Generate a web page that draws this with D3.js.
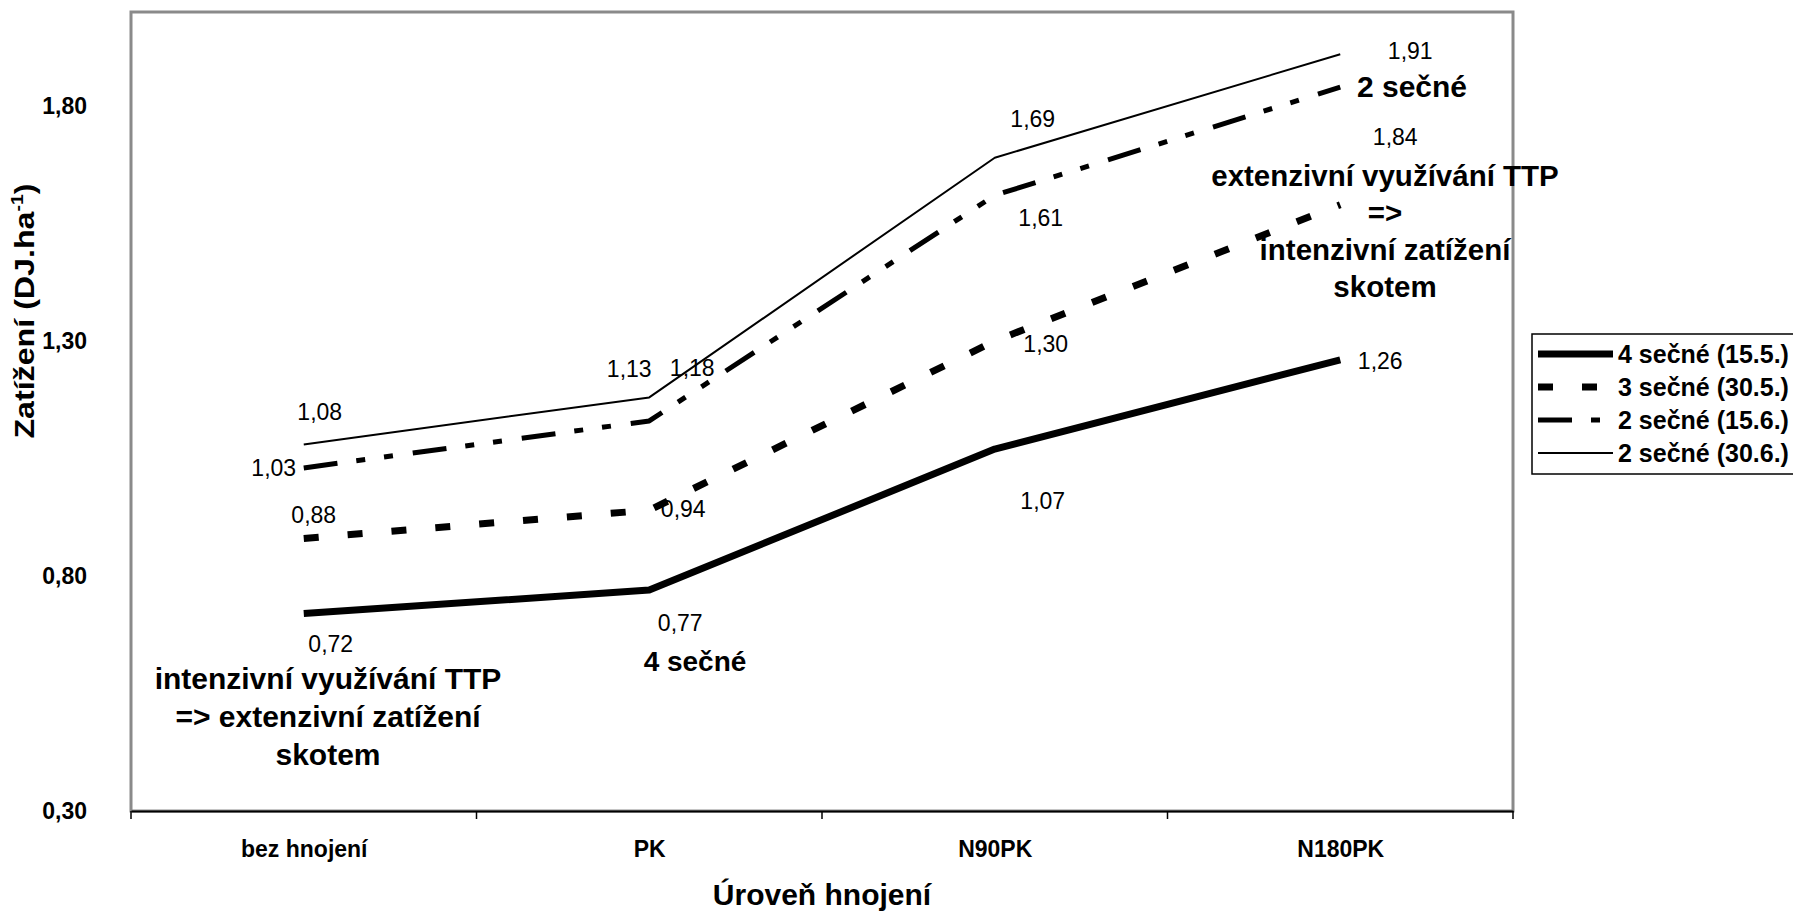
<!DOCTYPE html>
<html>
<head>
<meta charset="utf-8">
<script src="https://cdn.jsdelivr.net/npm/d3@7"></script>
<style>
  body { margin: 0; background: #fff; }
  svg { display: block; font-family: "Liberation Sans", Arial, sans-serif; }
</style>
</head>
<body>
<div id="chart"></div>
<script>
// kategorie a hodnoty (DJ.ha-1)
const categories = ["bez hnojení", "PK", "N90PK", "N180PK"];
const seriesNames = ["4 sečné (15.5.)", "3 sečné (30.5.)", "2 sečné (15.6.)", "2 sečné (30.6.)"];
const cut4_155 = [0.72, 0.77, 1.07, 1.26];
const cut3_305 = [0.88, 0.94, 1.30, 1.59];
const cut2_156 = [1.03, 1.13, 1.61, 1.84];
const cut2_306 = [1.08, 1.18, 1.69, 1.91];
const yTicks = [0.30, 0.80, 1.30, 1.80];
// popisek u 3 sečné / N180PK v originale chybi
const showLabel = [[1, 1, 1, 1], [1, 1, 1, 0], [1, 1, 1, 1], [1, 1, 1, 1]];

const noteLeft = ["intenzivní využívání TTP", "=> extenzivní zatížení", "skotem"];
const noteRight = ["extenzivní využívání TTP", "=>", "intenzivní zatížení", "skotem"];
const note4 = "4 sečné";
const note2 = "2 sečné";

// posun popisku od bodu [dx, dy]
const labelOffsets = [
  [[27, 30], [31, 33], [48, 52], [40, 1]],
  [[10, -23], [34, -1], [51, 3], [0, 0]],
  [[-30, 0], [-20, -52], [46, 23], [55, 50]],
  [[16, -32], [43, -29], [38, -39], [70, -3]]
];

const styles = [
  {width: 7, dash: null},
  {width: 7, dash: "15 29"},
  {width: 5, dash: "34 19 9 19 9 20"},
  {width: 2, dash: null}
];

const W = 1793, H = 912;
const plot = {left: 131, right: 1513, top: 12, bottom: 811};

const fmt = d3.formatLocale({decimal: ",", thousands: " ", grouping: [3], currency: ["", ""]}).format(".2f");

const svg = d3.select("#chart").append("svg")
  .attr("width", W).attr("height", H);

svg.append("rect").attr("width", W).attr("height", H).attr("fill", "#fff");

const x = d3.scalePoint().domain(categories).range([plot.left, plot.right]).padding(0.5);
const y = d3.scaleLinear().domain([0.30, 2.00]).range([plot.bottom, plot.top]);

// ramecek plochy grafu
svg.append("rect")
  .attr("x", plot.left).attr("y", plot.top)
  .attr("width", plot.right - plot.left).attr("height", plot.bottom - plot.top)
  .attr("fill", "none").attr("stroke", "#8a8a8a").attr("stroke-width", 3);

// osa x s carkami mezi kategoriemi
const step = x.step();
const xAxis = d3.axisBottom(x).tickSize(0).tickPadding(30);
const gx = svg.append("g").attr("transform", `translate(0,${plot.bottom})`).call(xAxis);
gx.select(".domain").attr("stroke", "#000").attr("stroke-width", 2);
gx.selectAll("text").attr("font-size", 23).attr("font-weight", "bold").attr("fill", "#000");
const edges = d3.range(categories.length + 1).map(i => plot.left + i * step);
gx.selectAll("line.edge").data(edges).join("line")
  .attr("class", "edge")
  .attr("x1", d => d).attr("x2", d => d)
  .attr("y1", 0).attr("y2", 8)
  .attr("stroke", "#000").attr("stroke-width", 1.5);

// osa y
const yAxis = d3.axisLeft(y).tickValues(yTicks).tickSize(0).tickPadding(44).tickFormat(fmt);
const gy = svg.append("g").attr("transform", `translate(${plot.left},0)`).call(yAxis);
gy.select(".domain").remove();
gy.selectAll("text").attr("font-size", 23).attr("font-weight", "bold").attr("fill", "#000");

// nazvy os
svg.append("text")
  .attr("x", (plot.left + plot.right) / 2).attr("y", 905)
  .attr("text-anchor", "middle").attr("font-size", 30).attr("font-weight", "bold")
  .text("Úroveň hnojení");

const yt = svg.append("text")
  .attr("transform", `translate(34,311) rotate(-90) scale(1.15,1)`)
  .attr("text-anchor", "middle").attr("font-size", 28).attr("font-weight", "bold");
yt.append("tspan").text("Zatížení (DJ.ha");
yt.append("tspan").attr("font-size", 17).attr("dy", -11).text("-1");
yt.append("tspan").attr("dy", 11).text(")");

// linie
const series = [cut4_155, cut3_305, cut2_156, cut2_306];
const line = d3.line().x((d, i) => x(categories[i])).y(d => y(d));

svg.append("g").selectAll("path").data(series).join("path")
  .attr("d", line)
  .attr("fill", "none")
  .attr("stroke", "#000")
  .attr("stroke-width", (d, i) => styles[i].width)
  .attr("stroke-dasharray", (d, i) => styles[i].dash)
  .attr("stroke-linejoin", "round");

// popisky hodnot
const labels = [];
series.forEach((vals, s) => vals.forEach((v, i) => {
  if (showLabel[s][i]) labels.push({s, i, v});
}));
svg.append("g").selectAll("text").data(labels).join("text")
  .attr("x", d => x(categories[d.i]) + labelOffsets[d.s][d.i][0])
  .attr("y", d => y(d.v) + labelOffsets[d.s][d.i][1])
  .attr("text-anchor", "middle").attr("dominant-baseline", "central")
  .attr("font-size", 23)
  .text(d => fmt(d.v));

// komentare
function note(lines, cx, cy, size, lh) {
  svg.append("g").selectAll("text").data(lines).join("text")
    .attr("x", cx).attr("y", (d, i) => cy + i * lh)
    .attr("text-anchor", "middle").attr("dominant-baseline", "central")
    .attr("font-size", size).attr("font-weight", "bold")
    .text(d => d);
}
note(noteLeft, 328, 678, 30, 38);
note([note4], 695, 661, 28, 0);
note([note2], 1412, 86, 30, 0);
note(noteRight, 1385, 175, 29.5, 37);

// legenda
const lg = svg.append("g").attr("transform", "translate(1532,334)");
lg.append("rect").attr("width", 300).attr("height", 140)
  .attr("fill", "#fff").attr("stroke", "#000").attr("stroke-width", 1.5);
const rows = lg.selectAll("g.row").data(seriesNames).join("g")
  .attr("class", "row")
  .attr("transform", (d, i) => `translate(0,${20 + i * 33})`);
rows.append("line")
  .attr("x1", 6).attr("x2", 81).attr("y1", 0).attr("y2", 0)
  .attr("stroke", "#000")
  .attr("stroke-width", (d, i) => styles[i].width)
  .attr("stroke-dasharray", (d, i) => styles[i].dash);
rows.append("text")
  .attr("x", 86).attr("dominant-baseline", "central")
  .attr("font-size", 25).attr("font-weight", "bold")
  .text(d => d);
</script>
</body>
</html>
